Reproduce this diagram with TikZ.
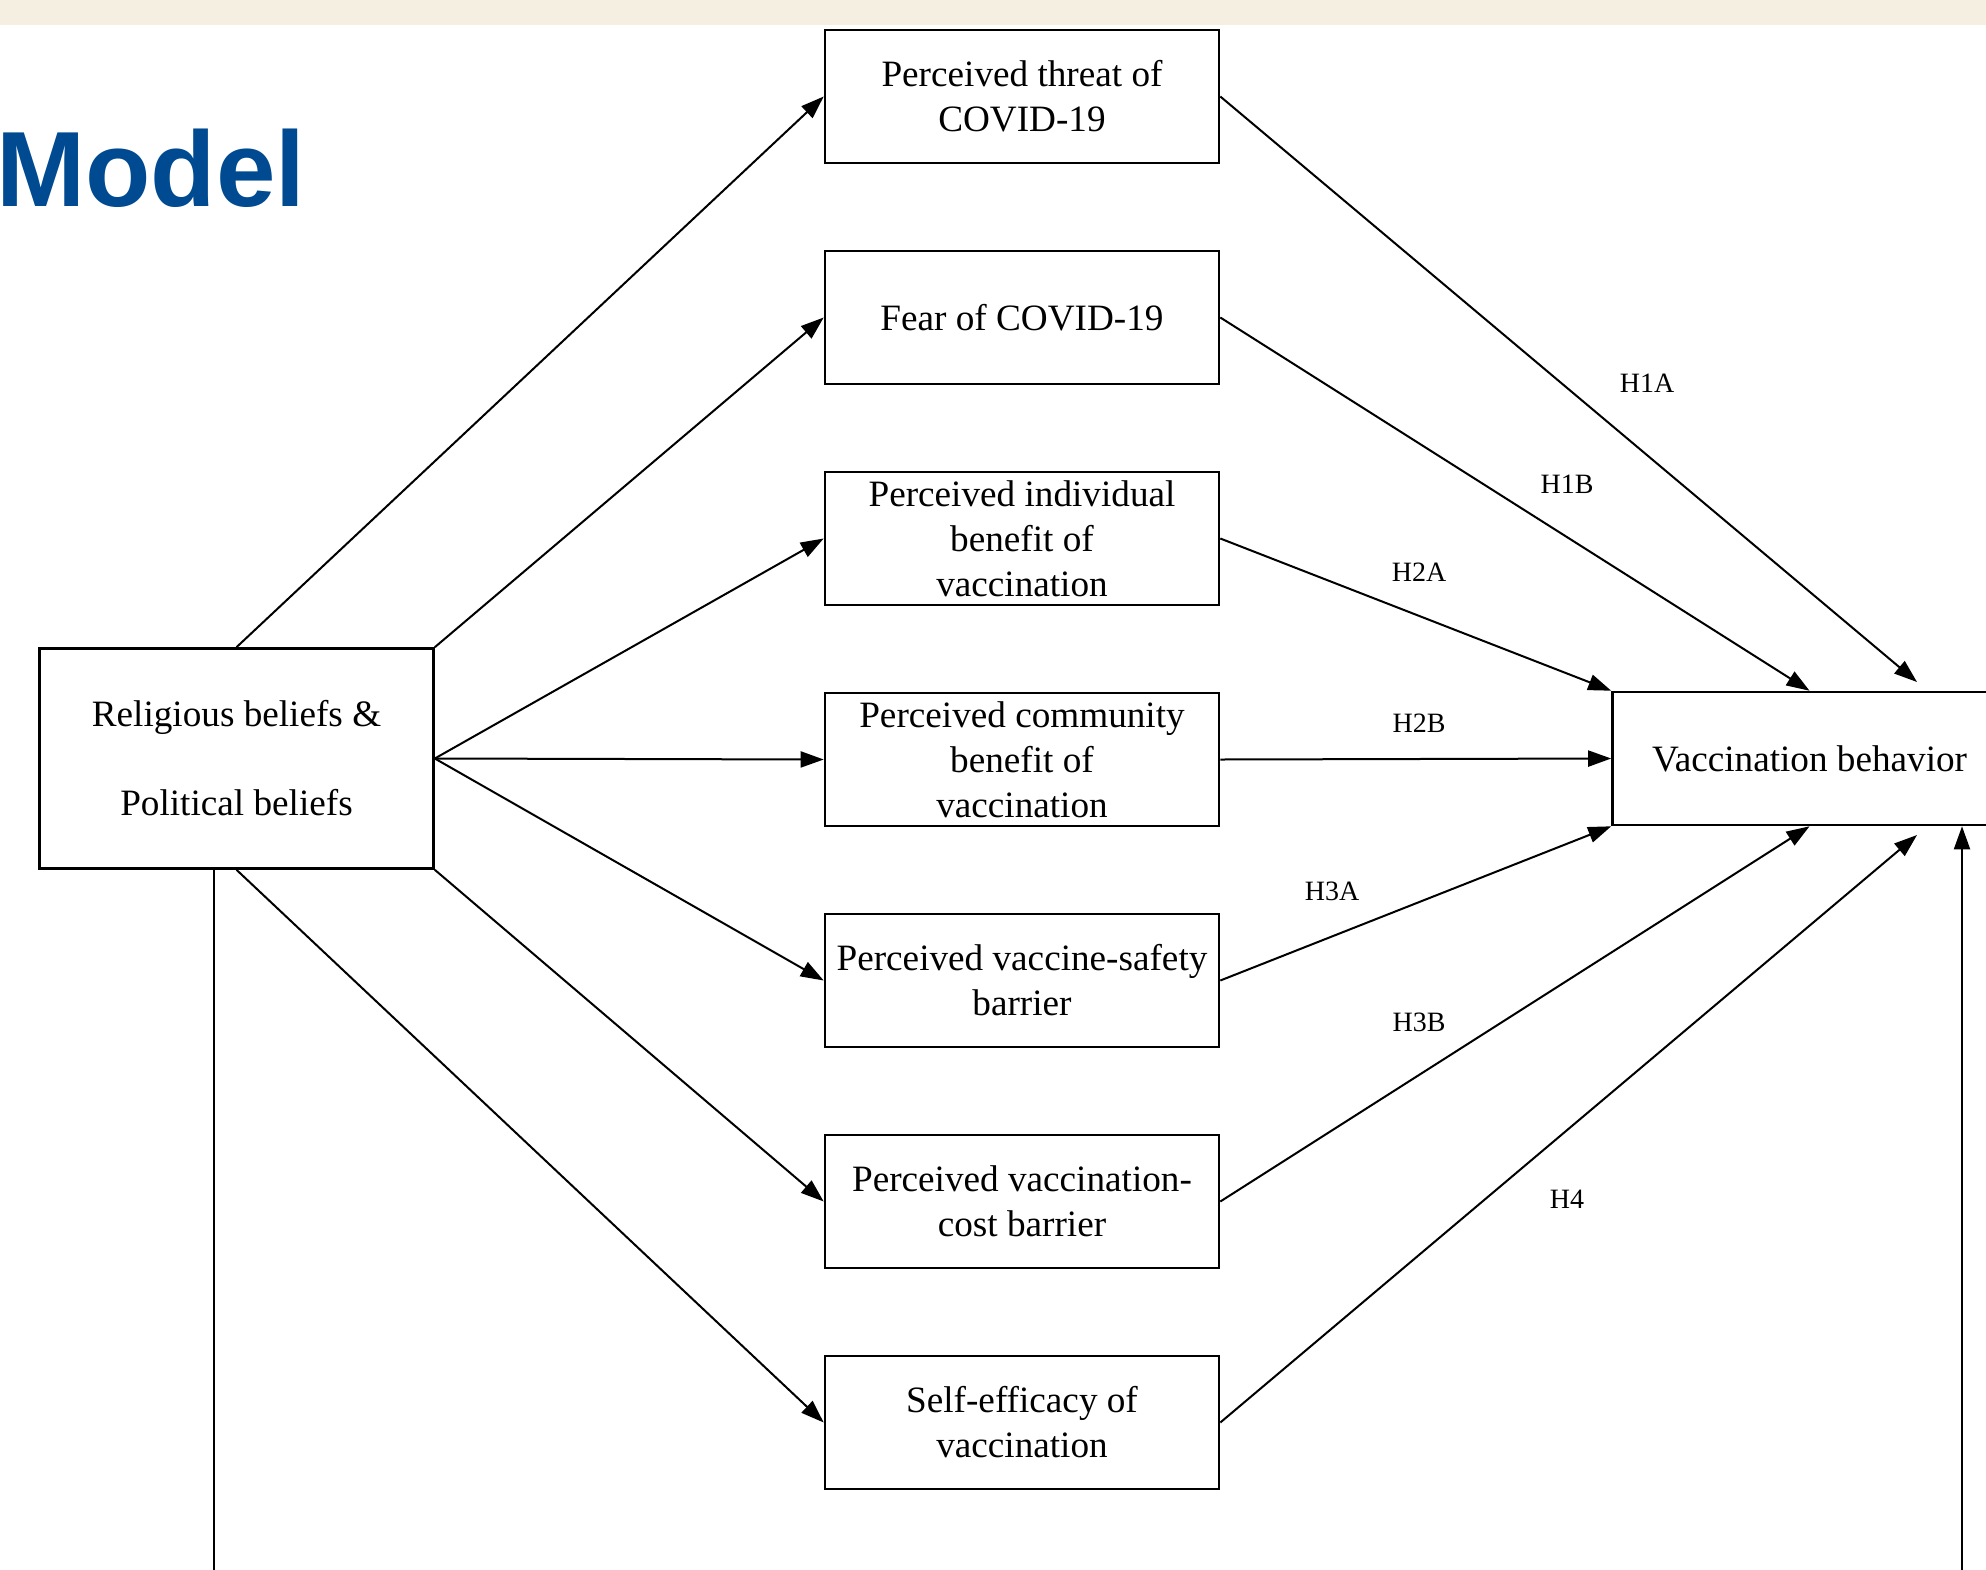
\documentclass[tikz,border=0pt]{standalone}
\usepackage{fontspec}
\setmainfont{Liberation Serif}
\newfontfamily\titlefont{Liberation Sans}
\usetikzlibrary{arrows.meta,calc}
\definecolor{bandcol}{HTML}{F5EFE2}
\definecolor{titleblue}{HTML}{004A91}
\tikzset{
  box/.style={draw, line width=1.3pt, minimum width=197pt, minimum height=66.5pt, inner sep=0pt, align=center, font=\fontsize{18.6}{22.5}\selectfont},
  conn/.style={line width=1pt, -{Triangle[length=11.5pt,width=8pt]}},
  plain/.style={line width=1pt},
  hlab/.style={font=\fontsize{14}{16}\selectfont, inner sep=0pt}
}
\begin{document}
\begin{tikzpicture}[x=0.5pt,y=-0.5pt]
\useasboundingbox (0,0) rectangle (1986,1569);
\clip (0,0) rectangle (1986,1569);
\fill[white] (0,0) rectangle (1986,1569);
\fill[bandcol] (0,0) rectangle (1986,25);
\node[anchor=base west, inner sep=0pt, text=titleblue, font=\titlefont\bfseries\fontsize{53.5}{60}\selectfont] (title) at (-4,206) {Model};

\node[box] (threat) at (1022,96.5) {Perceived threat of\\COVID-19};
\node[box] (fear) at (1022,317.5) {Fear of COVID-19};
\node[box] (indiv) at (1022,538.5) {Perceived individual\\benefit of\\vaccination};
\node[box] (comm) at (1022,759.5) {Perceived community\\benefit of\\vaccination};
\node[box] (safety) at (1022,980.5) {Perceived vaccine-safety\\barrier};
\node[box] (cost) at (1022,1201.5) {Perceived vaccination-\\cost barrier};
\node[box] (self) at (1022,1422.5) {Self-efficacy of\\vaccination};

\node[box, minimum height=110pt] (rel) at (236.5,758.5) {Religious beliefs \&\\[22pt]Political beliefs};
\node[box] (vac) at (1809.5,758.5) {Vaccination behavior};

\coordinate (t1) at (1917,682);
\coordinate (t7) at (1917,835);
\coordinate (lb) at (214,1580);
\coordinate (rb) at (1962,1580);

\draw[conn] (rel.north) -- (threat.west);
\draw[conn] (rel.north east) -- (fear.west);
\draw[conn] (rel.east) -- (indiv.west);
\draw[conn] (rel.east) -- (comm.west);
\draw[conn] (rel.east) -- (safety.west);
\draw[conn] (rel.south east) -- (cost.west);
\draw[conn] (rel.south) -- (self.west);

\draw[conn] (threat.east) -- (t1);
\draw[conn] (fear.east) -- (vac.north);
\draw[conn] (indiv.east) -- (vac.north west);
\draw[conn] (comm.east) -- (vac.west);
\draw[conn] (safety.east) -- (vac.south west);
\draw[conn] (cost.east) -- (vac.south);
\draw[conn] (self.east) -- (t7);

\draw[plain] (rel.south -| lb) -- (lb);
\draw[conn] (rb) -- (rb |- vac.south);

\node[hlab] (h1a) at (1647,383) {H1A};
\node[hlab] (h1b) at (1567,484) {H1B};
\node[hlab] (h2a) at (1419,572) {H2A};
\node[hlab] (h2b) at (1419,723) {H2B};
\node[hlab] (h3a) at (1332,891) {H3A};
\node[hlab] (h3b) at (1419,1022) {H3B};
\node[hlab] (h4) at (1567,1199) {H4};
\end{tikzpicture}
\end{document}
